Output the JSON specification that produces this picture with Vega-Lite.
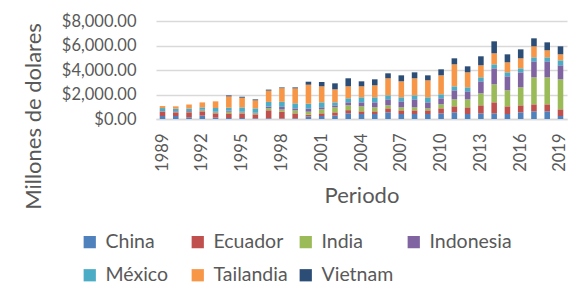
{
  "$schema": "https://vega.github.io/schema/vega-lite/v6.json",
  "width": 411,
  "height": 98,
  "autosize": {"type": "none"},
  "padding": {"left": 156, "top": 21, "right": 15, "bottom": 180},
  "background": "white",
  "config": {
    "view": {"stroke": null},
    "font": "Lato",
    "text": {"color": "#595959"}
  },
  "data": {
    "values": [
      {"Periodo": 1989, "China": 245, "Ecuador": 354, "India": 20, "Indonesia": 30, "México": 245, "Tailandia": 163, "Vietnam": 0},
      {"Periodo": 1990, "China": 245, "Ecuador": 300, "India": 20, "Indonesia": 60, "México": 218, "Tailandia": 190, "Vietnam": 0},
      {"Periodo": 1991, "China": 136, "Ecuador": 408, "India": 40, "Indonesia": 60, "México": 218, "Tailandia": 327, "Vietnam": 0},
      {"Periodo": 1992, "China": 272, "Ecuador": 354, "India": 80, "Indonesia": 50, "México": 190, "Tailandia": 408, "Vietnam": 0},
      {"Periodo": 1993, "China": 109, "Ecuador": 354, "India": 80, "Indonesia": 54, "México": 300, "Tailandia": 544, "Vietnam": 0},
      {"Periodo": 1994, "China": 80, "Ecuador": 380, "India": 136, "Indonesia": 80, "México": 245, "Tailandia": 925, "Vietnam": 80},
      {"Periodo": 1995, "China": 80, "Ecuador": 380, "India": 80, "Indonesia": 54, "México": 354, "Tailandia": 790, "Vietnam": 80},
      {"Periodo": 1996, "China": 54, "Ecuador": 327, "India": 80, "Indonesia": 54, "México": 354, "Tailandia": 653, "Vietnam": 80},
      {"Periodo": 1997, "China": 60, "Ecuador": 650, "India": 163, "Indonesia": 140, "México": 380, "Tailandia": 925, "Vietnam": 80},
      {"Periodo": 1998, "China": 40, "Ecuador": 571, "India": 163, "Indonesia": 218, "México": 408, "Tailandia": 1116, "Vietnam": 60},
      {"Periodo": 1999, "China": 60, "Ecuador": 400, "India": 245, "Indonesia": 163, "México": 408, "Tailandia": 1224, "Vietnam": 80},
      {"Periodo": 2000, "China": 200, "Ecuador": 150, "India": 245, "Indonesia": 245, "México": 408, "Tailandia": 1551, "Vietnam": 245},
      {"Periodo": 2001, "China": 245, "Ecuador": 218, "India": 327, "Indonesia": 163, "México": 408, "Tailandia": 1306, "Vietnam": 354},
      {"Periodo": 2002, "China": 272, "Ecuador": 272, "India": 408, "Indonesia": 163, "México": 245, "Tailandia": 1061, "Vietnam": 490},
      {"Periodo": 2003, "China": 463, "Ecuador": 260, "India": 395, "Indonesia": 245, "México": 327, "Tailandia": 980, "Vietnam": 653},
      {"Periodo": 2004, "China": 408, "Ecuador": 218, "India": 408, "Indonesia": 327, "México": 408, "Tailandia": 898, "Vietnam": 408},
      {"Periodo": 2005, "China": 408, "Ecuador": 218, "India": 327, "Indonesia": 408, "México": 408, "Tailandia": 980, "Vietnam": 490},
      {"Periodo": 2006, "China": 544, "Ecuador": 327, "India": 245, "Indonesia": 490, "México": 327, "Tailandia": 1388, "Vietnam": 408},
      {"Periodo": 2007, "China": 408, "Ecuador": 299, "India": 245, "Indonesia": 490, "México": 327, "Tailandia": 1306, "Vietnam": 490},
      {"Periodo": 2008, "China": 408, "Ecuador": 299, "India": 245, "Indonesia": 653, "México": 327, "Tailandia": 1388, "Vietnam": 490},
      {"Periodo": 2009, "China": 408, "Ecuador": 299, "India": 163, "Indonesia": 490, "México": 408, "Tailandia": 1388, "Vietnam": 408},
      {"Periodo": 2010, "China": 463, "Ecuador": 408, "India": 327, "Indonesia": 490, "México": 327, "Tailandia": 1551, "Vietnam": 490},
      {"Periodo": 2011, "China": 544, "Ecuador": 490, "India": 571, "Indonesia": 735, "México": 327, "Tailandia": 1796, "Vietnam": 490},
      {"Periodo": 2012, "China": 408, "Ecuador": 544, "India": 653, "Indonesia": 653, "México": 327, "Tailandia": 1224, "Vietnam": 490},
      {"Periodo": 2013, "China": 463, "Ecuador": 653, "India": 980, "Indonesia": 980, "México": 327, "Tailandia": 980, "Vietnam": 735},
      {"Periodo": 2014, "China": 463, "Ecuador": 898, "India": 1469, "Indonesia": 1306, "México": 327, "Tailandia": 898, "Vietnam": 980},
      {"Periodo": 2015, "China": 408, "Ecuador": 626, "India": 1306, "Indonesia": 1143, "México": 327, "Tailandia": 816, "Vietnam": 653},
      {"Periodo": 2016, "China": 544, "Ecuador": 571, "India": 1469, "Indonesia": 1224, "México": 327, "Tailandia": 816, "Vietnam": 735},
      {"Periodo": 2017, "China": 626, "Ecuador": 571, "India": 2204, "Indonesia": 1306, "México": 327, "Tailandia": 898, "Vietnam": 653},
      {"Periodo": 2018, "China": 626, "Ecuador": 571, "India": 2204, "Indonesia": 1306, "México": 327, "Tailandia": 571, "Vietnam": 653},
      {"Periodo": 2019, "China": 245, "Ecuador": 544, "India": 2449, "Indonesia": 1143, "México": 408, "Tailandia": 490, "Vietnam": 653}
    ]
  },
  "transform": [
    {"fold": ["China", "Ecuador", "India", "Indonesia", "México", "Tailandia", "Vietnam"], "as": ["Pais", "Valor"]}
  ],
  "mark": {"type": "bar"},
  "encoding": {
    "x": {
      "field": "Periodo",
      "type": "ordinal",
      "scale": {"paddingInner": 0.58, "paddingOuter": 0.28},
      "axis": {
        "values": [1989, 1992, 1995, 1998, 2001, 2004, 2007, 2010, 2013, 2016, 2019],
        "labelAngle": -90,
        "labelFont": "Lato",
        "labelFontSize": 16.5,
        "labelColor": "#595959",
        "labelPadding": 14,
        "ticks": false,
        "tickSize": 0,
        "domainColor": "#D9D9D9",
        "domainWidth": 1.5,
        "title": "Periodo",
        "titleFont": "Lato",
        "titleFontSize": 22,
        "titleFontWeight": "normal",
        "titleColor": "#595959",
        "titleY": 83,
        "titleBaseline": "alphabetic"
      }
    },
    "y": {
      "field": "Valor",
      "type": "quantitative",
      "aggregate": "sum",
      "stack": "zero",
      "scale": {"domain": [0, 8000], "nice": false},
      "axis": {
        "values": [0, 2000, 4000, 6000, 8000],
        "format": "$,.2f",
        "labelFont": "Lato",
        "labelFontSize": 16.5,
        "labelColor": "#595959",
        "labelPadding": 20,
        "ticks": false,
        "tickSize": 0,
        "domain": false,
        "grid": true,
        "gridColor": "#D9D9D9",
        "gridWidth": 1.5,
        "title": "Millones de dolares",
        "titleFont": "Lato",
        "titleFontSize": 22,
        "titleFontWeight": "normal",
        "titleColor": "#595959",
        "titleAngle": -90,
        "titleX": -123,
        "titleY": 95,
        "titleAlign": "center",
        "titleBaseline": "middle"
      }
    },
    "color": {
      "field": "Pais",
      "type": "nominal",
      "scale": {
        "domain": ["China", "Ecuador", "India", "Indonesia", "México", "Tailandia", "Vietnam"],
        "range": ["#4F81BD", "#C0504D", "#9BBB59", "#8064A2", "#4BACC6", "#F79646", "#2C4D75"]
      },
      "legend": {
        "title": null,
        "orient": "none",
        "legendX": -76,
        "legendY": 211,
        "direction": "horizontal",
        "columns": 4,
        "gridAlign": "all",
        "columnPadding": -2,
        "rowPadding": 12.5,
        "padding": 0,
        "symbolType": "square",
        "symbolSize": 150,
        "symbolStrokeWidth": 0,
        "labelOffset": 6,
        "labelFont": "Lato",
        "labelFontSize": 19.5,
        "labelColor": "#595959",
        "labelLimit": 200
      }
    },
    "order": {"field": "Pais", "sort": "ascending"}
  }
}
